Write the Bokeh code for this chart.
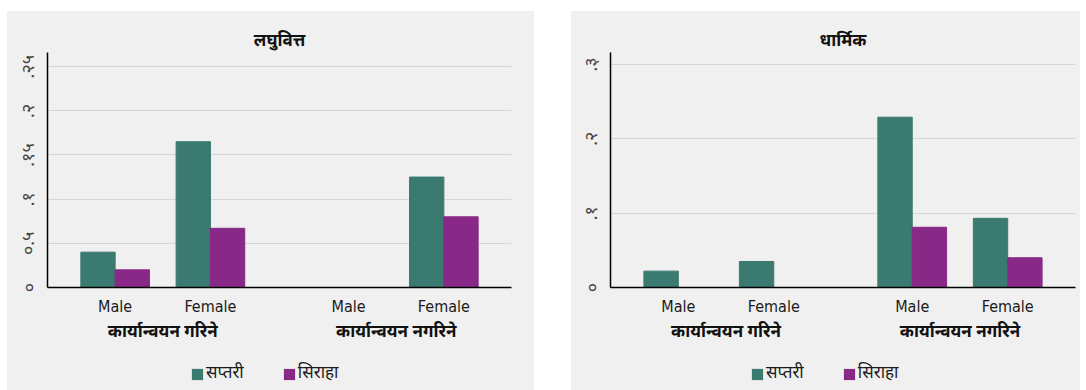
from bokeh.plotting import figure
from bokeh.models import (ColumnDataSource, FactorRange, Range1d, FixedTicker,
                          Spacer, Legend, LegendItem)
from bokeh.layouts import row, column
from bokeh.transform import dodge
from bokeh.embed import file_html
from bokeh.resources import INLINE

# ---- data ----
groups = ["कार्यान्वयन गरिने", "कार्यान्वयन नगरिने"]
genders = ["Male", "Female"]
series = ["सप्तरी", "सिराहा"]

titles = ["लघुवित्त", "धार्मिक"]

laghu_saptari = [0.040, 0.165, 0.0, 0.125]
laghu_siraha = [0.020, 0.067, 0.0, 0.080]

dharmik_saptari = [0.022, 0.035, 0.229, 0.093]
dharmik_siraha = [0.0, 0.0, 0.081, 0.040]

laghu_ticks = [0, 0.05, 0.1, 0.15, 0.2, 0.25]
laghu_tick_labels = ["०", "०.५", ".१", ".१५", ".२", ".२५"]
dharmik_ticks = [0, 0.1, 0.2, 0.3]
dharmik_tick_labels = ["०", ".१", ".२", ".३"]

COLORS = ["#3a7a70", "#892987"]
BG = "#f0f0f0"
DEVA = "Noto Sans Devanagari"
NARROW = "DejaVu Sans Condensed"

factors = [(g, s) for g in groups for s in genders]


def make_panel(title, v1, v2, ticks, tick_labels, ymax, width, left, right,
               leg_x):
    src = ColumnDataSource(dict(x=factors, a=v1, b=v2))
    xr = FactorRange(*factors, factor_padding=0.0, group_padding=0.45,
                     range_padding=0.21, range_padding_units="absolute")
    p = figure(x_range=xr, y_range=Range1d(0, ymax), width=width, height=344,
               output_backend="svg", toolbar_location=None, title=title,
               min_border_left=left, min_border_right=right,
               min_border_top=41, min_border_bottom=68)
    p.vbar(x=dodge("x", -0.18, range=p.x_range), top="a", width=0.36,
           source=src, color=COLORS[0])
    p.vbar(x=dodge("x", 0.18, range=p.x_range), top="b", width=0.36,
           source=src, color=COLORS[1])

    p.background_fill_color = None
    p.border_fill_color = BG
    p.outline_line_color = None

    p.title.align = "center"
    p.title.text_font = DEVA
    p.title.text_font_size = "17px"
    p.title.text_font_style = "bold"
    p.title.text_color = "#111111"
    p.title.standoff = 0

    p.xgrid.grid_line_color = None
    p.ygrid.grid_line_color = "#d6d6d6"
    p.ygrid.grid_line_width = 1

    p.yaxis.ticker = FixedTicker(ticks=ticks)
    p.yaxis.major_label_overrides = {t: l for t, l in zip(ticks, tick_labels)}
    p.yaxis.major_label_orientation = "vertical"
    p.yaxis.major_label_text_font = DEVA
    p.yaxis.major_label_text_font_size = "18px"
    p.yaxis.major_label_text_color = "#444444"
    p.yaxis.major_tick_line_color = None
    p.yaxis.minor_tick_line_color = None
    p.yaxis.axis_line_color = "#000000"
    p.yaxis.axis_line_width = 1.5
    p.yaxis.major_label_standoff = 0

    p.xaxis.axis_line_color = "#000000"
    p.xaxis.axis_line_width = 1.5
    p.xaxis.major_tick_line_color = None
    p.xaxis.minor_tick_line_color = None
    p.xaxis.major_label_text_font = NARROW
    p.xaxis.major_label_text_font_size = "16px"
    p.xaxis.major_label_text_color = "#1a1a1a"
    p.xaxis.group_text_font = DEVA
    p.xaxis.group_text_font_size = "17px"
    p.xaxis.group_text_font_style = "bold"
    p.xaxis.group_text_color = "#111111"
    p.xaxis.separator_line_color = None
    p.xaxis.major_label_standoff = 3

    # legend strip below the chart, sharing the grey background
    q = figure(width=width, height=35, output_backend="svg",
               toolbar_location=None, x_axis_location=None,
               y_axis_location=None, min_border=0,
               x_range=Range1d(0, 1), y_range=Range1d(0, 1))
    q.background_fill_color = None
    q.border_fill_color = BG
    q.outline_line_color = None
    q.xgrid.visible = False
    q.ygrid.visible = False
    key = ColumnDataSource(dict(x=[0.5], t=[0.0]))
    r1 = q.vbar(x="x", top="t", width=0.0, source=key,
                fill_color=COLORS[0], line_color=None)
    r2 = q.vbar(x="x", top="t", width=0.0, source=key,
                fill_color=COLORS[1], line_color=None)
    leg = Legend(items=[LegendItem(label=series[0], renderers=[r1]),
                        LegendItem(label=series[1], renderers=[r2])],
                 orientation="horizontal", location=(leg_x, 5))
    leg.background_fill_alpha = 0
    leg.border_line_color = None
    leg.label_text_font = DEVA
    leg.label_text_font_size = "17px"
    leg.label_text_color = "#1a1a1a"
    leg.glyph_width = 14
    leg.glyph_height = 14
    leg.label_standoff = 2
    leg.spacing = 38
    leg.padding = 0
    leg.margin = 0
    q.add_layout(leg)
    return column(p, q, spacing=0, styles={"background-color": BG})


c1 = make_panel(titles[0], laghu_saptari, laghu_siraha, laghu_ticks,
                laghu_tick_labels, 0.266, 527, 40, 23, 143)
c2 = make_panel(titles[1], dharmik_saptari, dharmik_siraha, dharmik_ticks,
                dharmik_tick_labels, 0.316, 509, 39, 5, 140)

layout = column(Spacer(height=11),
                row(Spacer(width=7), c1, Spacer(width=37), c2))

open("out.html", "w").write(file_html(layout, INLINE))
